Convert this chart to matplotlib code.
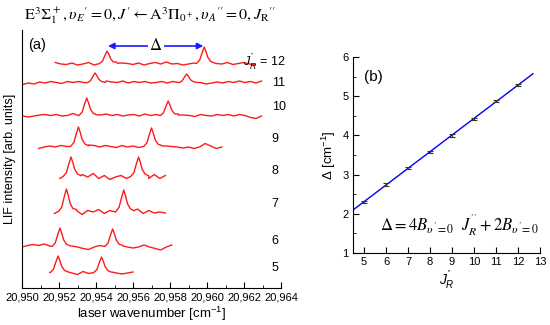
import numpy as np
import matplotlib
matplotlib.use("Agg")
import matplotlib.pyplot as plt
from matplotlib.ticker import FuncFormatter, MultipleLocator

plt.rcParams['font.family'] = ['Liberation Sans', 'DejaVu Sans']
plt.rcParams['mathtext.fontset'] = 'custom'
plt.rcParams['mathtext.rm'] = 'Liberation Sans'
plt.rcParams['mathtext.it'] = 'Liberation Sans:italic'
plt.rcParams['mathtext.sf'] = 'Liberation Sans'

# ---------------- data: panel (a) ----------------
J_levels = [5, 6, 7, 8, 9, 10, 11, 12]
trace_offsets = [15, 41, 76, 111, 141, 172, 205, 224]
trace_starts = [20951.5, 20950.0, 20951.75, 20952.05, 20950.9, 20950.05, 20950.05, 20951.8]
peak_pos = [(20951.95, 20954.3), (20952.05, 20954.9), (20952.4, 20955.5),
            (20952.65, 20956.3), (20953.05, 20957.0), (20953.5, 20957.9),
            (20953.95, 20958.9), (20954.6, 20959.85)]
peak_height = [(17, 16), (19, 18), (23, 22), (20, 20), (20, 19), (18, 15), (10, 9), (13, 17)]
baselines = [
    [0.5, -1, 0, 0, 0, -1.5, 1.5, -0.5, 2, 0, -1.5, 1, 0, -1, 0, 1],
    [0, 1.5, 2.5, 1.5, 3, 1, 0.5, 0, 2.5, 1, 0, -1.5, -2.5, 0, 1.5, 1.5, 0, 0, 2, 0, -1, 0, 2, 0, -1.5, -3, 0, 2],
    [-1.5, 0, 0, 0, 2.5, -2.5, 1.5, 0, 2.5, -1.5, 1.5, 0, 0, 0, 9, 3, -1.5, 1.5, -1, 0, -1],
    [-1.5, 0, 0, 0, 2.5, 0, 3.5, -1.5, 1.5, -2.5, 0, 1.5, -1.5, 1, 0, 0, -1.5, 2.5, -1.5, 1.5],
    [-1.5, 0, 1, 0, 1.5, 0.5, 1, 0, 0, 2, 1.5, 0, 1.5, 0.5, -0.5, 1.5, 0, 1, -0.5, 1, 0, 0, 2, 1, 0.5, 0, -1, 0, -1.5, 0, 3.5, 1, -1.5, 0],
    [0, -1, 0, 1, 1.5, 0.5, 1.5, 0, 0.5, 2.5, 0.5, 0, 0, 2, 1, 2, 0.5, 1.5, 0, 1, 1.5, 0, 2, 0.5, 1.5, 0.5, 0, 0,
     2, 1, 0.5, -0.5, 1.5, 0.5, 0, 1.5, 0.5, 1.5, 0, 1.5, 0.5, -1.5, -2.5, 0],
    [-1.5, 0, -1, 1, 0, 1.5, 0.5, -0.5, 1.5, 0.5, 1.5, 0.5, 0, 0, 0, 2, 1, 0.5, 2, 0, 1.5, 0.5, 1.5, 0, 0.5, 1.5, 0, 1.5, 0.5,
     0, 0, 2, 0.5, -1, 0, 1, 0, 1.5, 0.5, 2, 0.5, 1.5, 0, 2],
    [1.5, 0, -0.5, 1, -1, 0, 1.5, -1, 0.5, 0, 0, 2, 1, 0.5, -0.5, 1, -1, 0.5, 1.5, 0, 2, 0, 0.5, -1, 0, 1, 0, 0,
     1.5, 0.5, 0, 1.5, -0.5, 0.5, 1.5, 0, -1],
]
baseline_step = 0.3
peak_dx = [-0.42, -0.25, -0.12, 0.0, 0.1, 0.2, 0.35, 0.55]
peak_frac = [0.03, 0.22, 0.65, 1.0, 0.72, 0.38, 0.15, 0.06]
xticks_a = list(range(20950, 20965, 2))

# ---------------- data: panel (b) ----------------
J_b = [5, 6, 7, 8, 9, 10, 11, 12]
delta_b = [2.30, 2.75, 3.17, 3.57, 4.00, 4.42, 4.88, 5.28]
delta_err = [0.03, 0.03, 0.03, 0.03, 0.03, 0.03, 0.03, 0.03]
fit_range = [4.5, 12.68]

fig = plt.figure(figsize=(5.5, 3.25), dpi=100)
W, H = 550, 325

# ---------------- panel (a) ----------------
axa = fig.add_axes([22 / W, (H - 288) / H, 259 / W, 258 / H])
for J, off, x0, pk, ph, base in zip(J_levels, trace_offsets, trace_starts, peak_pos, peak_height, baselines):
    bx = x0 + baseline_step * np.arange(len(base))
    by = np.array(base, dtype=float)
    keep = np.ones(len(bx), bool)
    for p in pk:
        keep &= ~((bx > p - 0.45) & (bx < p + 0.5))
    xs = list(bx[keep])
    ys = list(by[keep])
    for p, h in zip(pk, ph):
        xs += [p + d for d in peak_dx]
        ys += [h * f for f in peak_frac]
    order = np.argsort(xs)
    xs = np.array(xs)[order]
    ys = np.array(ys)[order] + off
    axa.plot(xs, ys, color='#ff1a1a', lw=1.0)

axa.set_xlim(20950, 20964)
axa.set_ylim(0, 258)
axa.spines['top'].set_visible(False)
axa.spines['right'].set_visible(False)
axa.set_yticks([])
axa.set_xticks(xticks_a)
axa.xaxis.set_minor_locator(MultipleLocator(1))
axa.xaxis.set_major_formatter(FuncFormatter(lambda v, p: f"{int(v):,}"))
axa.tick_params(axis='x', which='major', direction='in', length=4, labelsize=8, pad=3)
axa.tick_params(axis='x', which='minor', direction='in', length=2)
axa.set_xlabel(r"laser wavenumber [cm$^{-1}$]", fontsize=9.5, labelpad=2)
axa.set_ylabel("LIF intensity [arb. units]", fontsize=9, labelpad=4)

# labels for J levels
for J, off in zip(J_levels, trace_offsets):
    if J == 12:
        axa.text(20961.95, off + 2, r"$J_R^{''}$ = 12", fontsize=9, ha='left', va='center', clip_on=False)
    else:
        ty = {11: 205, 10: 181, 9: 149, 8: 117, 7: 84, 6: 47, 5: 20}[J]
        axa.text(20963.5, ty, str(J), fontsize=9, ha='left', va='center', clip_on=False)

axa.text(0.025, 0.94, "(a)", transform=axa.transAxes, fontsize=10.5, ha='left', va='center')

# Delta arrow
p1, p2 = peak_pos[-1]
axa.annotate("", xy=(p1 + 0.05, 242), xytext=(p2 - 0.05, 242),
             arrowprops=dict(arrowstyle='<|-|>', color='#1a1aff', lw=1.2, mutation_scale=9, shrinkA=0, shrinkB=0),
             annotation_clip=False)
axa.text((p1 + p2) / 2, 243, r"$\Delta$", fontsize=12, ha='center', va='center', math_fontfamily='stix',
         bbox=dict(facecolor='white', edgecolor='none', pad=1))

# title
fig.text(150 / W, 1 - 16 / H,
         r"$\mathrm{E}^3\Sigma_1^+, \upsilon_E{}' = 0, J' \leftarrow \mathrm{A}^3\Pi_{0^+}, \upsilon_A{}'' = 0, J_\mathrm{R}{}''$",
         fontsize=11.5, ha='center', va='center', math_fontfamily='stix')

# ---------------- panel (b) ----------------
axb = fig.add_axes([353 / W, (H - 253) / H, 187 / W, 196 / H])
coef = np.polyfit(J_b, delta_b, 1)
fx = np.array(fit_range)
axb.plot(fx, np.polyval(coef, fx), color='#0000ff', lw=1.0)
axb.errorbar(J_b, delta_b, yerr=delta_err, fmt='none', ecolor='#333333', elinewidth=0.8, capsize=2, capthick=0.8)
axb.set_xlim(4.5, 13)
axb.set_ylim(1, 6)
axb.spines['top'].set_visible(False)
axb.spines['right'].set_visible(False)
axb.set_xticks(range(5, 14))
axb.set_yticks(range(1, 7))
axb.yaxis.set_minor_locator(MultipleLocator(0.5))
axb.tick_params(which='major', direction='in', length=4, labelsize=8, pad=3)
axb.tick_params(which='minor', direction='in', length=2)
axb.set_xlabel(r"$J_R^{''}$", fontsize=10, labelpad=1)
axb.set_ylabel(r"$\Delta$ [cm$^{-1}$]", fontsize=9.5, labelpad=3)
axb.text(0.06, 0.9, "(b)", transform=axb.transAxes, fontsize=11, ha='left', va='center')
axb.text(0.995, 0.14, r"$\Delta = 4B_{\upsilon\,'\!=0}\ \ J_R^{''} + 2B_{\upsilon\,'\!=0}$",
         transform=axb.transAxes, fontsize=12, ha='right', va='center', math_fontfamily='stix')

fig.savefig("out.png", dpi=100)
